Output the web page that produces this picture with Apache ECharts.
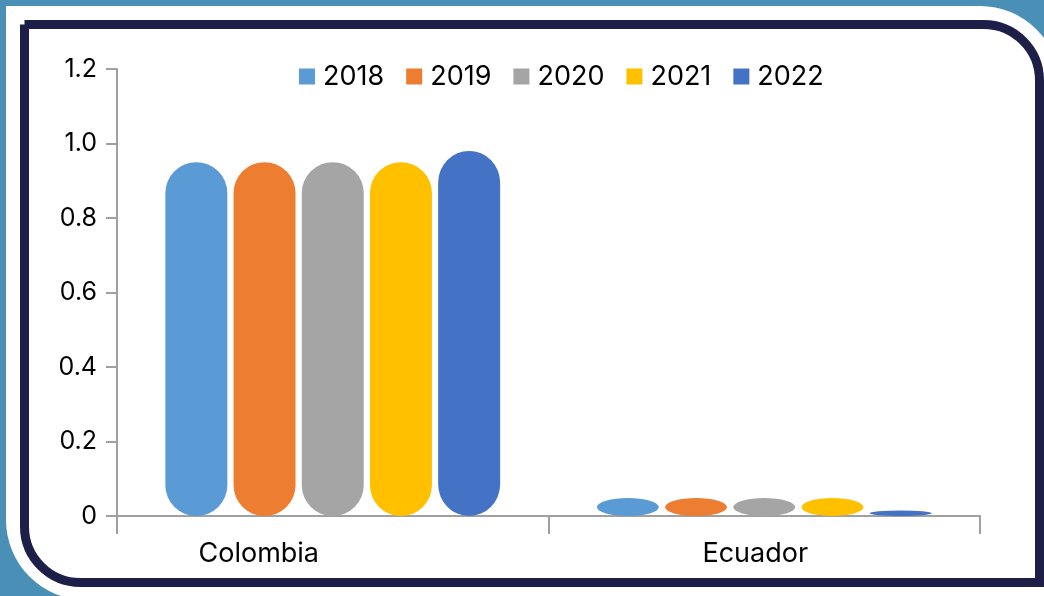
<!DOCTYPE html>
<html>
<head>
<meta charset="utf-8">
<script src="https://cdn.jsdelivr.net/npm/echarts@6/dist/echarts.min.js"></script>
<style>
html,body{margin:0;padding:0;background:#4a90b6;}
#c{width:1044px;height:596px;}
</style>
</head>
<body>
<div id="c"></div>
<script>
var categories = ['Colombia', 'Ecuador'];
var years = ['2018', '2019', '2020', '2021', '2022'];
var v2018 = [0.95, 0.048];
var v2019 = [0.95, 0.048];
var v2020 = [0.95, 0.048];
var v2021 = [0.95, 0.048];
var v2022 = [0.98, 0.015];
var yTicks = ['0', '0.2', '0.4', '0.6', '0.8', '1.0', '1.2'];

var colors = ['#5b9bd5', '#ed7d31', '#a5a5a5', '#ffc000', '#4472c4'];
var seriesVals = [v2018, v2019, v2020, v2021, v2022];
var FONT = 'Inter, "Noto Sans", sans-serif';
var PILL = 'path://M0,31 A31,31 0 0 1 62,31 L62,325 A31,31 0 0 1 0,325 Z';

var chart = echarts.init(document.getElementById('c'), null, {renderer: 'canvas'});
chart.setOption({
  animation: false,
  backgroundColor: '#4a90b6',
  color: colors,
  graphic: [
    {type: 'rect', z: -10, silent: true,
     shape: {x: 6, y: 6, width: 1054, height: 594, r: [0, 80, 0, 80]},
     style: {fill: '#ffffff'}},
    {type: 'rect', z: -9, silent: true,
     shape: {x: 24.5, y: 24.5, width: 1015, height: 558, r: [0, 56, 0, 56]},
     style: {fill: '#ffffff', stroke: '#1e1f48', lineWidth: 9}}
  ],
  legend: {
    top: 58,
    left: 294,
    itemWidth: 16,
    itemHeight: 16,
    itemGap: 22,
    icon: 'rect',
    textStyle: {fontFamily: FONT, fontSize: 27, color: '#000', padding: [0, 0, 0, 3]},
    data: years
  },
  grid: {left: 117, right: 64, top: 69, bottom: 80, containLabel: false},
  xAxis: {
    type: 'category',
    data: categories,
    boundaryGap: true,
    axisLine: {lineStyle: {color: '#a0a0a0', width: 2}},
    axisTick: {show: true, length: 18, alignWithLabel: false, lineStyle: {color: '#a0a0a0', width: 2}},
    axisLabel: {
      margin: 24,
      fontFamily: FONT, fontSize: 27, color: '#000',
      formatter: function (v) { return v === 'Colombia' ? '{a|' + v + '}' : '{b|' + v + '}'; },
      rich: {
        a: {fontFamily: FONT, fontSize: 27, color: '#000', padding: [0, 148, 0, 0]},
        b: {fontFamily: FONT, fontSize: 27, color: '#000', padding: [0, 18, 0, 0]}
      }
    }
  },
  yAxis: {
    type: 'value',
    min: 0, max: 1.2, interval: 0.2,
    splitLine: {show: false},
    axisLine: {show: true, lineStyle: {color: '#a0a0a0', width: 2}},
    axisTick: {show: true, length: 11, lineStyle: {color: '#a0a0a0', width: 2}},
    axisLabel: {
      margin: 20,
      fontFamily: FONT, fontSize: 25, color: '#000',
      formatter: function (v) { return yTicks[Math.round(v / 0.2)]; }
    }
  },
  series: years.map(function (y, i) {
    return {
      name: y,
      type: 'pictorialBar',
      barWidth: 62,
      barGap: '10%',
      symbolSize: ['100%', '100%'],
      symbolPosition: 'start',
      itemStyle: {color: colors[i]},
      data: seriesVals[i].map(function (v) {
        return {value: v, symbol: v > 0.2 ? PILL : 'circle'};
      })
    };
  })
});
</script>
</body>
</html>
